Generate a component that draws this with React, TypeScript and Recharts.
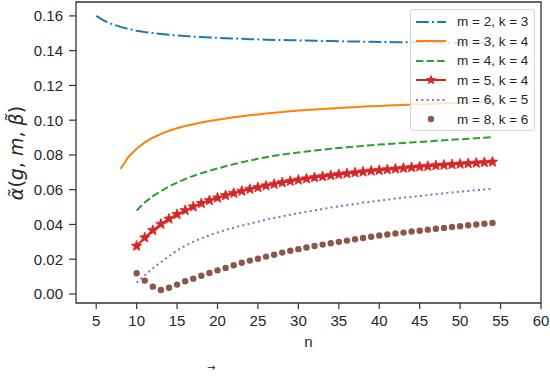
import { LineChart, Line, XAxis, YAxis, ReferenceArea } from 'recharts';

// n ranges: first n of each series
const startM2K3 = 5;
const startM3K4 = 8;
const startRest = 10;

const xTicks = [5, 10, 15, 20, 25, 30, 35, 40, 45, 50, 55, 60];
const yTicks = [0, 0.02, 0.04, 0.06, 0.08, 0.1, 0.12, 0.14, 0.16];

const alphaM2K3 = [
  0.16, 0.1572, 0.1552, 0.1537, 0.1525, 0.1515, 0.1507, 0.1501, 0.1496, 0.1491,
  0.1487, 0.1484, 0.1481, 0.1478, 0.1476, 0.1474, 0.1472, 0.147, 0.1468, 0.1466,
  0.1465, 0.1463, 0.1462, 0.1461, 0.146, 0.1459, 0.1458, 0.1457, 0.1456, 0.1455,
  0.1454, 0.1453, 0.1452, 0.1452, 0.1451, 0.145, 0.145, 0.1449, 0.1449, 0.1448,
  0.1448, 0.1447, 0.1447, 0.1446, 0.1446, 0.1445, 0.1445, 0.1445, 0.1444, 0.1444,
];

const alphaM3K4 = [
  0.0719, 0.079, 0.0836, 0.0872, 0.0899, 0.0921, 0.0939, 0.0954, 0.0966, 0.0977,
  0.0987, 0.0995, 0.1003, 0.101, 0.1017, 0.1023, 0.1028, 0.1033, 0.1038, 0.1043,
  0.1047, 0.1051, 0.1055, 0.1058, 0.1061, 0.1064, 0.1067, 0.107, 0.1073, 0.1075,
  0.1078, 0.108, 0.1082, 0.1084, 0.1086, 0.1088, 0.109, 0.1092, 0.1094, 0.1095,
  0.1097, 0.1099, 0.11, 0.1102, 0.1103, 0.1105, 0.1106,
];

const alphaM4K4 = [
  0.048, 0.0527, 0.0563, 0.0592, 0.0618, 0.0641, 0.0661, 0.0679, 0.0695, 0.0709,
  0.0722, 0.0735, 0.0747, 0.0758, 0.0768, 0.0778, 0.0787, 0.0795, 0.0802, 0.0808,
  0.0814, 0.082, 0.0825, 0.083, 0.0835, 0.084, 0.0844, 0.0848, 0.0852, 0.0856,
  0.086, 0.0863, 0.0866, 0.0869, 0.0872, 0.0875, 0.0878, 0.0881, 0.0884, 0.0887,
  0.089, 0.0893, 0.0896, 0.0899, 0.0902,
];

const alphaM5K4 = [
  0.0276, 0.0324, 0.0366, 0.0402, 0.0432, 0.0458, 0.0481, 0.0502, 0.0521, 0.0538,
  0.0553, 0.0567, 0.058, 0.0592, 0.0603, 0.0613, 0.0623, 0.0632, 0.0641, 0.0649,
  0.0656, 0.0663, 0.067, 0.0676, 0.0682, 0.0688, 0.0693, 0.0698, 0.0703, 0.0708,
  0.0712, 0.0716, 0.072, 0.0724, 0.0728, 0.0732, 0.0735, 0.0739, 0.0742, 0.0745,
  0.0748, 0.0751, 0.0754, 0.0757, 0.076,
];

const alphaM6K5 = [
  0.0065, 0.0108, 0.0148, 0.0183, 0.0217, 0.025, 0.0277, 0.03, 0.032, 0.0338,
  0.0354, 0.0368, 0.0381, 0.0393, 0.0405, 0.0416, 0.0427, 0.0437, 0.0447, 0.0456,
  0.0465, 0.0473, 0.0481, 0.0489, 0.0497, 0.0504, 0.0511, 0.0518, 0.0525, 0.0531,
  0.0537, 0.0543, 0.0549, 0.0554, 0.0559, 0.0564, 0.0569, 0.0574, 0.0579, 0.0584,
  0.0589, 0.0593, 0.0597, 0.0601, 0.0605,
];

const alphaM8K6 = [
  0.0119, 0.0077, 0.0042, 0.0023, 0.0036, 0.0054, 0.0073, 0.0088, 0.0105, 0.0121,
  0.0136, 0.015, 0.0165, 0.018, 0.0192, 0.0203, 0.0215, 0.0226, 0.0238, 0.0249,
  0.0258, 0.0267, 0.0276, 0.0284, 0.0292, 0.03, 0.0307, 0.0315, 0.0322, 0.0329,
  0.0336, 0.0342, 0.0348, 0.0353, 0.0359, 0.0364, 0.037, 0.0375, 0.038, 0.0385,
  0.039, 0.0395, 0.04, 0.0404, 0.0409,
];

const toRows = (start: number, values: number[]) =>
  values.map((v, i) => ({ n: start + i, v }));

const FONT = '"Liberation Sans", Arial, sans-serif';
const INK = '#262626';

const starPoints = (cx: number, cy: number, ro: number, ri: number) => {
  const pts: string[] = [];
  for (let i = 0; i < 10; i++) {
    const r = i % 2 === 0 ? ro : ri;
    const a = -Math.PI / 2 + (i * Math.PI) / 5;
    pts.push(`${cx + r * Math.cos(a)},${cy + r * Math.sin(a)}`);
  }
  return pts.join(' ');
};

const StarDot = (props: any) => {
  const { cx, cy, index } = props;
  if (cx == null || cy == null) return <g key={`s${index}`} />;
  return <polygon key={`s${index}`} points={starPoints(cx, cy, 5.5, 2.4)} fill="#d62728" stroke="#d62728" strokeWidth={0.8} />;
};

const series = [
  { name: 'm = 2, k = 3', data: toRows(startM2K3, alphaM2K3), color: '#1f77b4', dash: '12.8 3.2 2 3.2', kind: 'line' },
  { name: 'm = 3, k = 4', data: toRows(startM3K4, alphaM3K4), color: '#ff7f0e', dash: undefined, kind: 'line' },
  { name: 'm = 4, k = 4', data: toRows(startRest, alphaM4K4), color: '#2ca02c', dash: '7.4 3.2', kind: 'line' },
  { name: 'm = 5, k = 4', data: toRows(startRest, alphaM5K4), color: '#d62728', dash: undefined, kind: 'star' },
  { name: 'm = 6, k = 5', data: toRows(startRest, alphaM6K5), color: '#9467bd', dash: '2 3.3', kind: 'line' },
  { name: 'm = 8, k = 6', data: toRows(startRest, alphaM8K6), color: '#8c564b', dash: undefined, kind: 'dot' },
];

const LegendSymbol = ({ s }: { s: (typeof series)[number] }) => (
  <svg width={30} height={12} style={{ display: 'block' }}>
    {s.kind !== 'dot' && (
      <line x1={0} y1={6} x2={30} y2={6} stroke={s.color} strokeWidth={2} strokeDasharray={s.dash} />
    )}
    {s.kind === 'star' && <polygon points={starPoints(15, 6, 5.5, 2.4)} fill={s.color} />}
    {s.kind === 'dot' && <circle cx={15} cy={6} r={3.2} fill={s.color} />}
  </svg>
);

export default function App() {
  return (
    <div style={{ position: 'absolute', left: 0, top: 0, width: 550, height: 376, background: '#fff', fontFamily: FONT }}>
      <LineChart width={550} height={376} margin={{ top: 2, right: 9, bottom: 0, left: 0 }}>
        <XAxis
          type="number"
          dataKey="n"
          domain={[2.5, 60]}
          allowDataOverflow
          ticks={xTicks}
          axisLine={false}
          tickLine={{ stroke: '#333', strokeWidth: 1.2 }}
          tickSize={6}
          tickMargin={6}
          height={73}
          tick={{ fill: INK, fontSize: 15, fontFamily: FONT }}
          label={{ value: 'n', position: 'insideBottom', offset: 29, fill: INK, fontSize: 15, fontFamily: FONT }}
        />
        <YAxis
          type="number"
          domain={[-0.0052, 0.168]}
          allowDataOverflow
          ticks={yTicks}
          tickFormatter={(v: number) => v.toFixed(2)}
          axisLine={false}
          tickLine={{ stroke: '#333', strokeWidth: 1.2 }}
          tickSize={7}
          tickMargin={6}
          width={76}
          tick={{ fill: INK, fontSize: 15, fontFamily: FONT }}
        />
        <ReferenceArea x1={2.5} x2={60} y1={-0.0052} y2={0.168} fill="none" stroke="#333" strokeWidth={1.3} />
        {series.map((s) => (
          <Line
            key={s.name}
            data={s.data}
            dataKey="v"
            type="linear"
            stroke={s.kind === 'dot' ? 'none' : s.color}
            strokeWidth={2}
            strokeDasharray={s.dash}
            dot={s.kind === 'star' ? StarDot : s.kind === 'dot' ? { r: 3.2, fill: s.color, stroke: 'none' } : false}
            activeDot={false}
            isAnimationActive={false}
          />
        ))}
      </LineChart>

      {/* y label */}
      <div
        style={{
          position: 'absolute',
          left: 16,
          top: 153,
          transform: 'translate(-50%, -50%) rotate(-90deg)',
          whiteSpace: 'nowrap',
          fontFamily: '"DejaVu Sans", sans-serif',
          fontSize: 19,
          color: INK,
        }}
      >
        <i>α̃</i>(<i>g</i>, <i>m</i>, <i>β̃</i>)
      </div>

      {/* legend */}
      <div
        style={{
          position: 'absolute',
          left: 410,
          top: 9,
          width: 123,
          height: 120,
          border: '1px solid #d4d4d4',
          borderRadius: 3,
          background: 'rgba(255,255,255,0.8)',
        }}
      >
        {series.map((s, i) => (
          <div
            key={s.name}
            style={{ position: 'absolute', left: 5, top: 2 + i * 19.5, height: 19.5, display: 'flex', alignItems: 'center' }}
          >
            <LegendSymbol s={s} />
            <span style={{ marginLeft: 11, fontSize: 13.5, color: INK, whiteSpace: 'nowrap' }}>{s.name}</span>
          </div>
        ))}
      </div>

      {/* cut-off caption fragment at the bottom edge */}
      <div style={{ position: 'absolute', left: 207, top: 362, fontSize: 10, color: '#222', fontFamily: '"DejaVu Sans", sans-serif' }}>→</div>
    </div>
  );
}
